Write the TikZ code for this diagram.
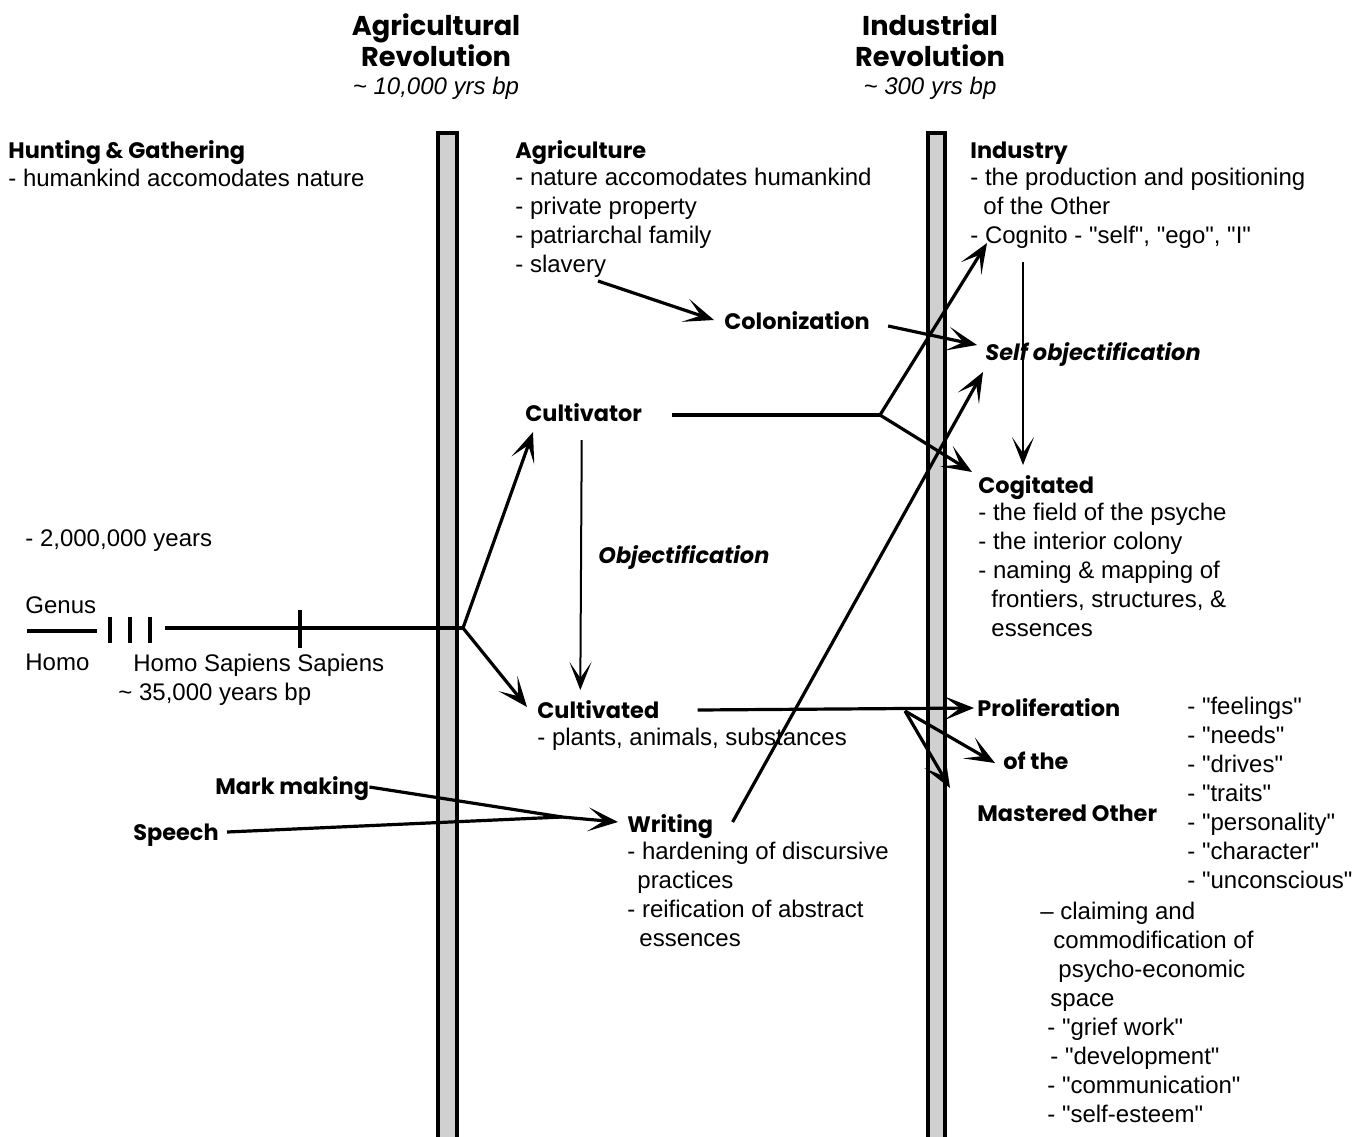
\documentclass[tikz,border=0pt]{standalone}
\usepackage{fontspec}
\setmainfont{Liberation Sans}
\newfontfamily\headfont{Poppins}
\usetikzlibrary{arrows.meta,positioning}
\definecolor{barfill}{RGB}{208,208,208}
\newcommand{\qt}[1]{\textquotedbl#1\textquotedbl}

\tikzset{
  txt/.style={anchor=north west,inner sep=0pt,align=left,font=\fontsize{12}{14.5}\selectfont},
  hd/.style={anchor=base west,inner sep=0pt,font=\headfont\bfseries\fontsize{11.2}{14.5}\selectfont},
  hdit/.style={hd,font=\headfont\bfseries\itshape\fontsize{11.2}{14.5}\selectfont},
  ttl/.style={anchor=base,inner sep=0pt,font=\headfont\bfseries\fontsize{13.6}{16}\selectfont},
  era/.style={anchor=base,inner sep=0pt,font=\itshape\fontsize{12}{14}\selectfont},
  bar/.style={draw,line width=1.6pt,fill=barfill},
  ln/.style={line width=1.6pt},
  arr/.style={ln,-{Stealth[length=15pt,width=12pt,inset=8pt]}},
  thinarr/.style={line width=1pt,-{Stealth[length=14pt,width=11pt,inset=8pt]}}
}

\begin{document}
\begin{tikzpicture}[x=0.5pt,y=-0.5pt]
\useasboundingbox (0,0) rectangle (1370,1136);

% the two revolutions
\node[ttl] (agrt) at (436,35) {Agricultural};
\node[ttl] (agrr) at (436,66) {Revolution};
\node[era] (agre) at (436,94) {\textasciitilde\ 10,000 yrs bp};
\node[ttl] (indt) at (930,35) {Industrial};
\node[ttl] (indr) at (930,66) {Revolution};
\node[era] (inde) at (930,94) {\textasciitilde\ 300 yrs bp};
\draw[bar] (438,133) rectangle (457,1150);
\draw[bar] (928,133) rectangle (945,1150);

% hunting & gathering, the genus line
\node[hd] (hunt) at (8,158) {Hunting \& Gathering};
\node[txt] (huntd) at (8,169) {- humankind accomodates nature};
\node[txt] (twomil) at (25,529) {- 2,000,000 years};
\node[txt,anchor=base west] (genus) at (25,613) {Genus};
\node[txt] (homo) at (25,654) {Homo};
\node[txt] (hss) at (133,654) {Homo Sapiens Sapiens};
\node[txt] (hssbp) at (118,683) {\textasciitilde\ 35,000 years bp};
\draw[ln] (27,631) -- (97,631);
\draw[ln] (110,617) -- (110,643);
\draw[ln] (130,617) -- (130,643);
\draw[ln] (150,617) -- (150,643);
\draw[ln] (300,610) -- (300,648);
\coordinate (br1) at (463,628);
\draw[ln] (165,628) -- (br1);

% agriculture
\node[hd] (agri) at (515,158) {Agriculture};
\node[txt] (agrid) at (515,168) {- nature accomodates humankind\\- private property\\- patriarchal family\\- slavery};
\node[hd] (colon) at (724,329) {Colonization};
\node[hd] (cultv) at (525,421) {Cultivator};
\node[hdit] (objt) at (598,563) {Objectification};
\node[hd] (cultd) at (537,718) {Cultivated};
\node[txt] (cultdd) at (537,728) {- plants, animals, substances};
\node[hd] (mark) at (215,794) {Mark making};
\node[hd] (speech) at (133,840) {Speech};
\node[hd] (writ) at (627,832) {Writing};
\node[txt] (writd) at (627,842) {- hardening of discursive\\\hspace{5pt}practices\\- reification of abstract\\\hspace{6pt}essences};

% industry
\node[hd] (ind) at (970,158) {Industry};
\node[txt] (indd) at (970,168) {- the production and positioning\\\hspace{6.5pt}of the Other\\- Cognito - \qt{self}, \qt{ego}, \qt{I}};
\node[hdit] (selfo) at (985,360) {Self objectification};
\node[hd] (cogt) at (978,493) {Cogitated};
\node[txt] (cogtd) at (978,503) {- the field of the psyche\\- the interior colony\\- naming \& mapping of\\\hspace{6.5pt}frontiers, structures, \&\\\hspace{6.5pt}essences};
\node[hd] (prolif) at (977,716) {Proliferation};
\node[hd] (ofthe) at (1003,769) {of the};
\node[hd] (mast) at (977,821) {Mastered Other};
\node[txt] (feel) at (1187,697) {- \qt{feelings}\\- \qt{needs}\\- \qt{drives}\\- \qt{traits}\\- \qt{personality}\\- \qt{character}\\- \qt{unconscious}};
\node[txt] (claim) at (1040,902) {-- claiming and\\\hspace{6.5pt}commodification of\\\hspace{9pt}psycho-economic\\\hspace{5pt}space\\\hspace{3.5pt}- \qt{grief work}\\\hspace{5pt}- \qt{development}\\\hspace{3.5pt}- \qt{communication}\\\hspace{3.5pt}- \qt{self-esteem}};

% connectors
\coordinate (slv) at (598,281);
\draw[arr] (slv) -- ([shift={(-10,-9)}]colon.base west);
\draw[arr] ([shift={(18,-3)}]colon.base east) -- ([shift={(-8,-15)}]selfo.base west);
\draw[arr] (br1) -- ([shift={(8,11)}]cultv.base west);
\draw[arr] (br1) -- ([shift={(-10,-11)}]cultd.base west);
\draw[thinarr] ([shift={(-2,19)}]cultv.base) -- ([shift={(-18,-28)}]cultd.base);
\coordinate (br2) at (880,415);
\coordinate (cogn) at (987,243);
\draw[ln] ([shift={(30,-6)}]cultv.base east) -- (br2);
\draw[arr] (br2) -- (cogn);
\draw[arr] (br2) -- ([shift={(-6,-21)}]cogt.base west);
\draw[thinarr] ([shift={(36,19)}]cogn) -- ([shift={(45,-28)}]cogt.base west);
\coordinate (br3) at (905,711);
\draw[arr] ([shift={(38,-8)}]cultd.base east) -- ([shift={(-3,-8)}]prolif.base west);
\draw[arr] (br3) -- ([shift={(-8,-6)}]ofthe.base west);
\draw[arr] (br3) -- ([shift={(-27,-33)}]mast.base west);
\coordinate (mrg) at (562,817);
\draw[ln] ([shift={(0,-7)}]mark.base east) -- (mrg);
\draw[ln] ([shift={(8,-8)}]speech.base east) -- (mrg);
\draw[arr] (mrg) -- ([shift={(-9,-10)}]writ.base west);
\draw[arr] ([shift={(19,-10)}]writ.base east) -- ([shift={(-2,12)}]selfo.base west);
\end{tikzpicture}
\end{document}
